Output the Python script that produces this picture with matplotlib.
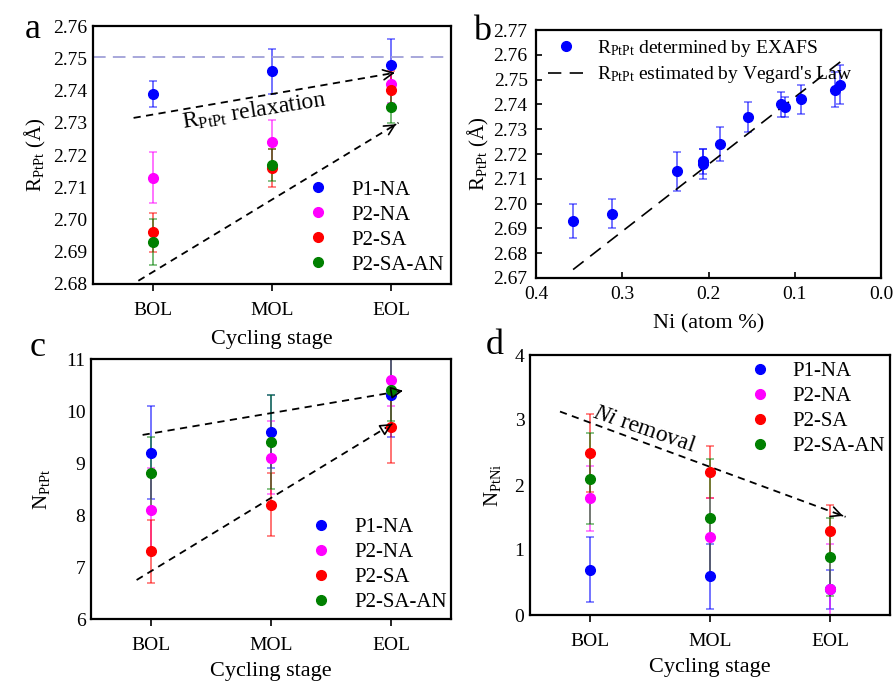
import numpy as np
import matplotlib
matplotlib.use('Agg')
from matplotlib import pyplot as plt

plt.rcParams['font.family'] = ['Liberation Serif', 'DejaVu Serif']
plt.rcParams['mathtext.fontset'] = 'custom'
plt.rcParams['mathtext.rm'] = 'Liberation Serif'
plt.rcParams['mathtext.it'] = 'Liberation Serif:italic'

stages = ['BOL', 'MOL', 'EOL']
samples = ['P1-NA', 'P2-NA', 'P2-SA', 'P2-SA-AN']
colors = ['#0000ff', '#ff00ff', '#ff0000', '#008000']

# a: R_PtPt per stage
r_ptpt = [[2.739, 2.746, 2.748],
          [2.713, 2.724, 2.742],
          [2.696, 2.716, 2.740],
          [2.693, 2.717, 2.735]]
r_err = [[0.004, 0.007, 0.008],
         [0.008, 0.007, 0.006],
         [0.006, 0.006, 0.006],
         [0.007, 0.005, 0.005]]

# b: R_PtPt vs Ni content
ni_frac = [0.357, 0.312, 0.237, 0.206, 0.206, 0.187, 0.154, 0.116, 0.111, 0.093, 0.053, 0.048]
r_exafs = [2.693, 2.696, 2.713, 2.717, 2.716, 2.724, 2.735, 2.740, 2.739, 2.742, 2.746, 2.748]
r_exafs_err = [0.007, 0.006, 0.008, 0.005, 0.006, 0.007, 0.006, 0.005, 0.004, 0.006, 0.007, 0.008]
vegard_ni = [0.357, 0.047]
vegard_r = [2.6734, 2.7572]

# c: N_PtPt
n_ptpt = [[9.2, 9.6, 10.3],
          [8.1, 9.1, 10.6],
          [7.3, 8.2, 9.7],
          [8.8, 9.4, 10.4]]
n_ptpt_err = [[0.9, 0.7, 0.8],
              [0.8, 0.7, 0.5],
              [0.6, 0.6, 0.7],
              [0.7, 0.9, 0.6]]

# d: N_PtNi
n_ptni = [[0.7, 0.6, 0.4],
          [1.8, 1.2, 0.4],
          [2.5, 2.2, 1.3],
          [2.1, 1.5, 0.9]]
n_ptni_err = [[0.5, 0.5, 0.3],
              [0.5, 0.6, 0.7],
              [0.6, 0.4, 0.4],
              [0.7, 0.9, 0.6]]

W, H = 893, 682
fig = plt.figure(figsize=(W / 100, H / 100), dpi=100)


def box(l, r, t, b):
    return [l / W, (H - b) / H, (r - l) / W, (b - t) / H]


def style(ax):
    for s in ax.spines.values():
        s.set_linewidth(1.6)
    ax.tick_params(labelsize=14, width=1.2)


def stage_plot(ax, vals, errs):
    x = np.arange(1, 4)
    for v, e, c, lab in zip(vals, errs, colors, samples):
        ax.errorbar(x, v, yerr=e, fmt='none', ecolor=c, alpha=0.55, elinewidth=1.4, capsize=3, capthick=1.2)
        ax.plot(x, v, 'o', color=c, ms=7, label=lab, zorder=3)
    ax.set_xlim(0.5, 3.5)
    ax.set_xticks(x)
    ax.set_xticklabels(stages)
    ax.tick_params(axis='x', direction='out', length=5, pad=8)
    ax.tick_params(axis='y', length=0, pad=4)
    style(ax)


def dash_arrow(ax, p0, p1, head='->', fc='k'):
    ax.plot([p0[0], p1[0]], [p0[1], p1[1]], '--', color='k', lw=1.3, dashes=(4, 3))
    back = (p1[0] - 0.02 * (p1[0] - p0[0]), p1[1] - 0.02 * (p1[1] - p0[1]))
    ax.annotate('', xy=p1, xytext=back,
                arrowprops=dict(arrowstyle=head, color='k', lw=1.2, fc=fc, mutation_scale=18))


leg_kw = dict(frameon=False, fontsize=15, handletextpad=0.6, labelspacing=0.26, borderaxespad=0.3)

# ---- a
ax = fig.add_axes(box(93, 451, 26, 284))
stage_plot(ax, r_ptpt, r_err)
ax.set_ylim(2.68, 2.76)
ax.set_yticks(np.arange(2.68, 2.7601, 0.01))
ax.axhline(2.7505, color='#a0a0d8', ls='--', lw=1.3, dashes=(7, 4))
dash_arrow(ax, (0.84, 2.7315), (3.03, 2.7455))
dash_arrow(ax, (0.88, 2.681), (3.06, 2.730))
ax.text(1.85, 2.7335, r'R$_{\mathrm{PtPt}}$ relaxation', fontsize=17, rotation=9, ha='center', va='center')
ax.set_ylabel(r'R$_{\mathrm{PtPt}}$ (Å)', fontsize=15, labelpad=4)
ax.set_xlabel('Cycling stage', fontsize=16, labelpad=8)
ax.legend(loc='lower right', bbox_to_anchor=(1.02, -0.02), **leg_kw)
fig.text(25 / W, 1 - 30 / H, 'a', fontsize=26, va='center')

# ---- b
ax = fig.add_axes(box(536, 881, 30, 278))
ax.errorbar(ni_frac, r_exafs, yerr=r_exafs_err, fmt='none', ecolor='#0000ff', alpha=0.55,
            elinewidth=1.4, capsize=3, capthick=1.2)
ax.plot(ni_frac, r_exafs, 'o', color='#0000ff', ms=7, zorder=3,
        label=r'R$_{\mathrm{PtPt}}$ determined by EXAFS')
ax.plot(vegard_ni, vegard_r, '--', color='k', lw=1.2, dashes=(8, 5),
        label=r"R$_{\mathrm{PtPt}}$ estimated by Vegard's Law")
ax.set_xlim(0.4, 0.0)
ax.set_ylim(2.67, 2.77)
ax.set_xticks([0.4, 0.3, 0.2, 0.1, 0.0])
ax.set_yticks(np.arange(2.67, 2.7701, 0.01))
style(ax)
ax.tick_params(axis='both', direction='in', length=4, pad=6)
ax.set_ylabel(r'R$_{\mathrm{PtPt}}$ (Å)', fontsize=15, labelpad=2)
ax.set_xlabel('Ni (atom %)', fontsize=16, labelpad=8)
ax.legend(loc='upper left', frameon=False, fontsize=14, handletextpad=0.7, handlelength=1.8,
          labelspacing=0.3, bbox_to_anchor=(-0.015, 1.04))
fig.text(473 / W, 1 - 32 / H, 'b', fontsize=26, va='center')

# ---- c
ax = fig.add_axes(box(91, 451, 359, 619))
stage_plot(ax, n_ptpt, n_ptpt_err)
ax.set_ylim(6, 11)
ax.set_yticks(range(6, 12))
dash_arrow(ax, (0.93, 9.54), (3.1, 10.39), head='-|>', fc='none')
dash_arrow(ax, (0.88, 6.75), (3.03, 9.78), head='-|>', fc='none')
ax.set_ylabel(r'N$_{\mathrm{PtPt}}$', fontsize=15, labelpad=10)
ax.set_xlabel('Cycling stage', fontsize=16, labelpad=6)
ax.legend(loc='lower right', bbox_to_anchor=(1.03, -0.03), **leg_kw)
fig.text(30 / W, 1 - 348 / H, 'c', fontsize=26, va='center')

# ---- d
ax = fig.add_axes(box(530, 890, 355, 615))
stage_plot(ax, n_ptni, n_ptni_err)
ax.set_ylim(0, 4)
ax.set_yticks(range(0, 5))
dash_arrow(ax, (0.75, 3.13), (3.13, 1.51))
ax.text(1.45, 2.85, r'$\mathit{Ni}$ removal', fontsize=17, rotation=-19, ha='center', va='center')
ax.set_ylabel(r'N$_{\mathrm{PtNi}}$', fontsize=15, labelpad=8)
ax.set_xlabel('Cycling stage', fontsize=16, labelpad=6)
ax.legend(loc='upper right', bbox_to_anchor=(1.028, 1.03), **leg_kw)
fig.text(486 / W, 1 - 345 / H, 'd', fontsize=26, va='center')

fig.savefig('out.png', dpi=100)
